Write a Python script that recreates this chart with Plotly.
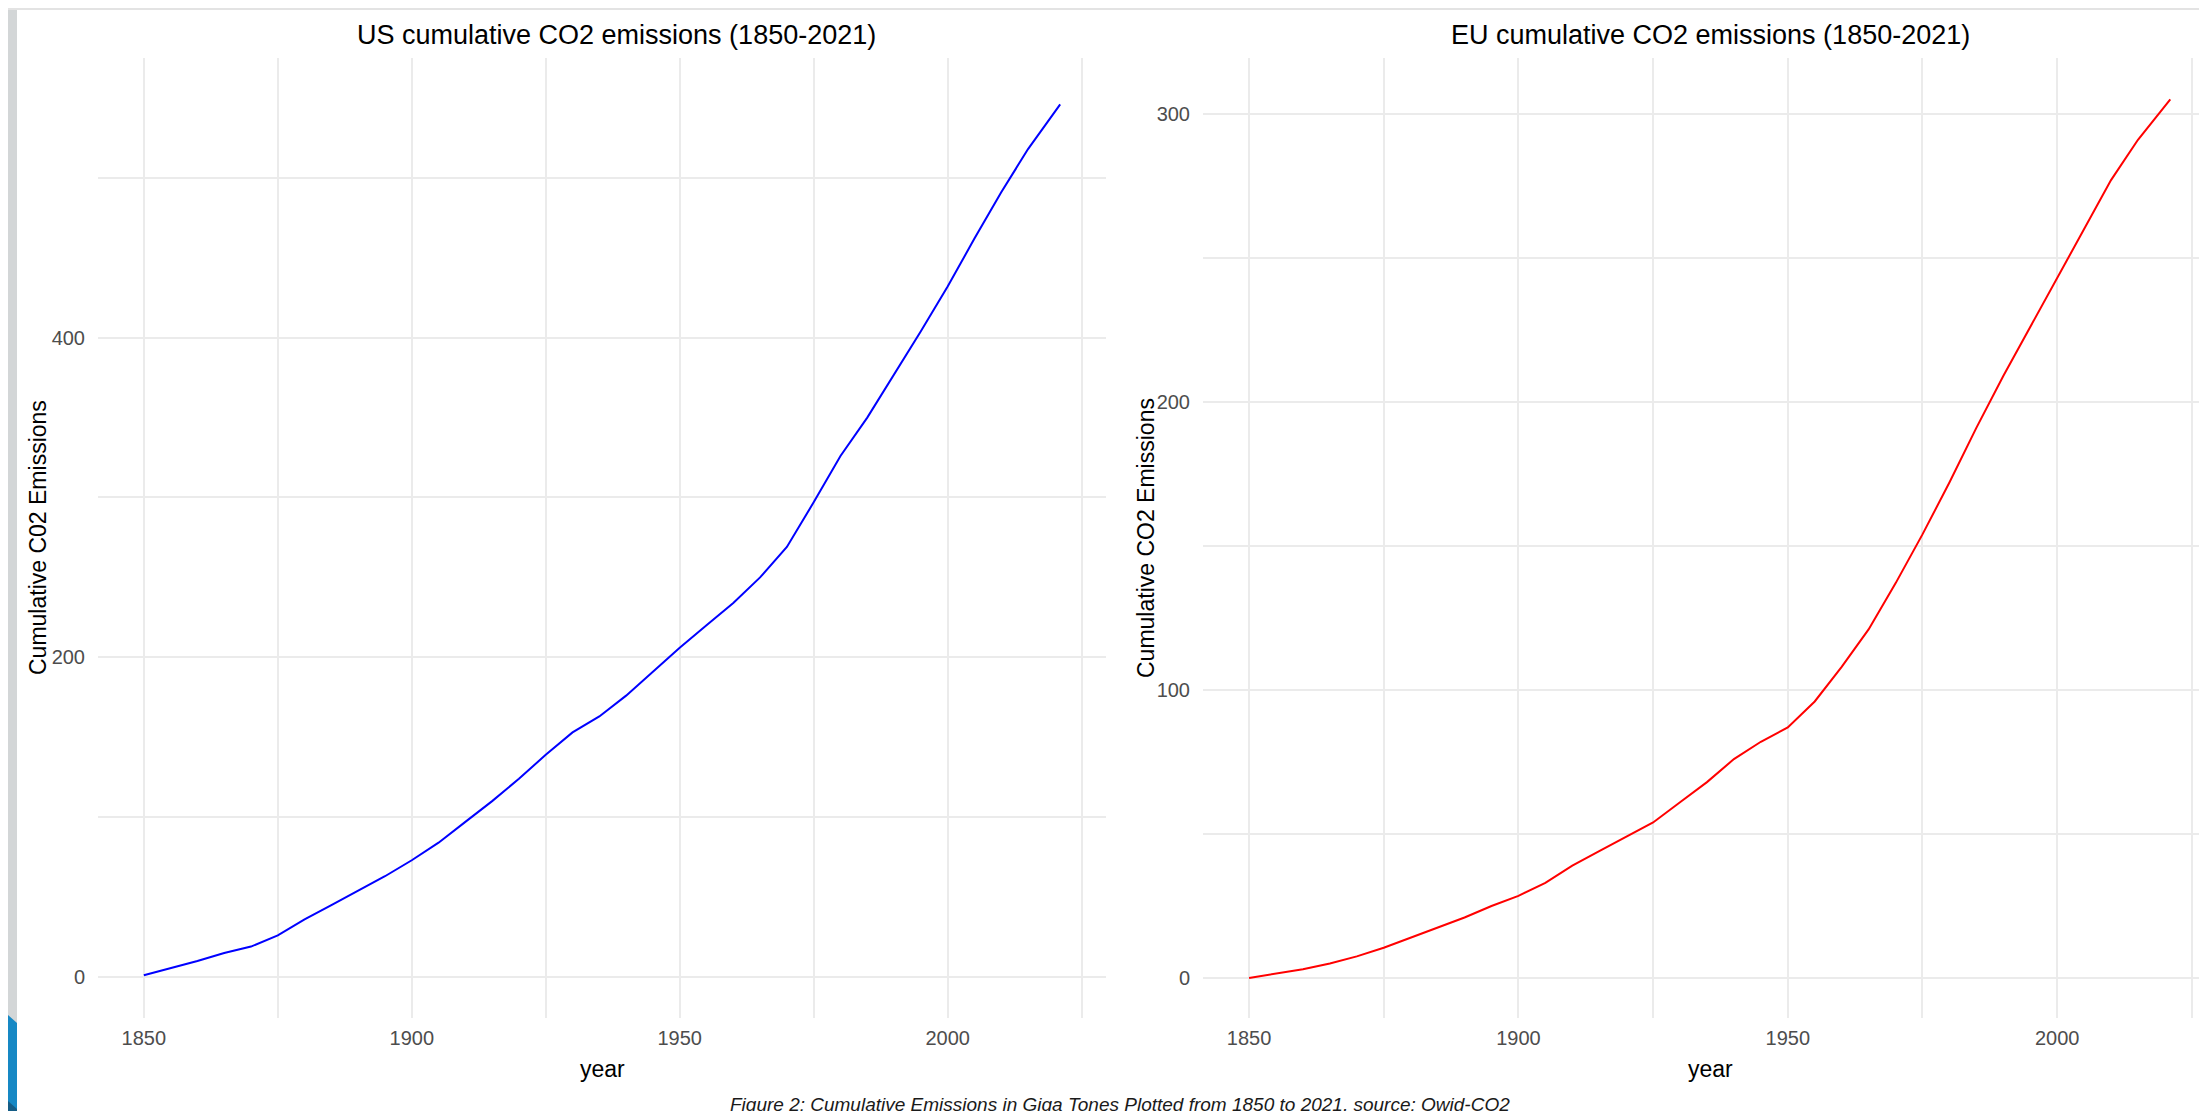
import plotly.graph_objects as go

# ---- data ----
years = [1850, 1855, 1860, 1865, 1870, 1875, 1880, 1885, 1890, 1895, 1900, 1905,
         1910, 1915, 1920, 1925, 1930, 1935, 1940, 1945, 1950, 1955, 1960, 1965,
         1970, 1975, 1980, 1985, 1990, 1995, 2000, 2005, 2010, 2015, 2021]
us_cum = [1, 5.5, 10, 15, 19, 26, 36, 45, 54, 63, 73, 84, 97, 110, 124, 139, 153,
          163, 176, 191, 206, 220, 234, 250, 269, 297, 326, 350, 377, 404, 432,
          462, 491, 518, 546]
eu_cum = [0, 1.5, 3, 5, 7.5, 10.5, 14, 17.5, 21, 25, 28.5, 33, 39, 44, 49, 54, 61,
          68, 76, 82, 87, 96, 108, 121, 137, 154, 172, 191, 209, 226, 243, 260,
          277, 291, 305]

x_ticks = [1850, 1900, 1950, 2000]
us_ticks = [0, 200, 400]
eu_ticks = [0, 100, 200, 300]

titles = ["US cumulative CO2 emissions (1850-2021)", "EU cumulative CO2 emissions (1850-2021)"]
y_titles = ["Cumulative C02 Emissions", "Cumulative CO2 Emissions"]
x_title = "year"
caption = "Figure 2: Cumulative Emissions in Giga Tones Plotted from 1850 to 2021, source: Owid-CO2"

W, H = 2207, 1111
FONT = "Liberation Sans, Arial, sans-serif"

def px(x):
    return x / W

def py(y):
    return 1 - y / H

left_dom = [px(90), px(1098)]
right_dom = [px(1195), 1.0]
y_dom = [py(1010), py(50)]

fig = go.Figure()
fig.add_trace(go.Scatter(x=years, y=us_cum, mode="lines", line=dict(color="#0000ff", width=2),
                         xaxis="x", yaxis="y", showlegend=False))
fig.add_trace(go.Scatter(x=years, y=eu_cum, mode="lines", line=dict(color="#ff0000", width=2),
                         xaxis="x2", yaxis="y2", showlegend=False))

grid = "#ebebeb"
axis_common = dict(showline=False, zeroline=False, ticks="", showgrid=True,
                   gridcolor=grid, gridwidth=2,
                   tickfont=dict(family=FONT, size=20, color="#4d4d4d"))
minor_common = dict(showgrid=True, gridcolor=grid, gridwidth=1.5, ticks="")

fig.update_layout(
    width=W, height=H,
    margin=dict(l=0, r=0, t=0, b=0),
    paper_bgcolor="white", plot_bgcolor="white",
    xaxis=dict(domain=left_dom, range=[1841.45, 2029.55], tickvals=x_ticks,
               minor=dict(tickvals=[1875, 1925, 1975, 2025], **minor_common),
               anchor="y", ticklabelstandoff=6, **axis_common),
    yaxis=dict(domain=y_dom, range=[-25.7, 575], tickvals=us_ticks,
               minor=dict(tickvals=[100, 300, 500], **minor_common),
               anchor="x", ticklabelstandoff=12, **axis_common),
    xaxis2=dict(domain=right_dom, range=[1841.45, 2029.3], tickvals=x_ticks,
                minor=dict(tickvals=[1875, 1925, 1975, 2025], **minor_common),
                anchor="y2", ticklabelstandoff=6, **axis_common),
    yaxis2=dict(domain=y_dom, range=[-13.9, 319.4], tickvals=eu_ticks,
                minor=dict(tickvals=[50, 150, 250], **minor_common),
                anchor="x2", ticklabelstandoff=12, **axis_common),
)

ann = []
centers = [(left_dom[0] + left_dom[1]) / 2, (right_dom[0] + px(2210)) / 2]
title_shift = [px(14), 0]
for c, s, t in zip(centers, title_shift, titles):
    ann.append(dict(x=c + s, y=py(27), xref="paper", yref="paper", text=t, showarrow=False,
                    xanchor="center", yanchor="middle",
                    font=dict(family=FONT, size=27, color="black")))
    ann.append(dict(x=c, y=py(1061), xref="paper", yref="paper", text=x_title, showarrow=False,
                    xanchor="center", yanchor="middle",
                    font=dict(family=FONT, size=23, color="black")))
for xc, t in zip([px(30), px(1138)], y_titles):
    ann.append(dict(x=xc, y=(y_dom[0] + y_dom[1]) / 2, xref="paper", yref="paper", text=t,
                    showarrow=False, textangle=-90, xanchor="center", yanchor="middle",
                    font=dict(family=FONT, size=23, color="black")))
ann.append(dict(x=px(1112), y=py(1096), xref="paper", yref="paper", text="<i>" + caption + "</i>",
                showarrow=False, xanchor="center", yanchor="middle",
                font=dict(family=FONT, size=19, color="#1a1a1a")))
fig.update_layout(annotations=ann)

# slide background decorations around the picture
shapes = [
    dict(type="rect", xref="paper", yref="paper", x0=0, x1=px(9), y0=0, y1=1,
         fillcolor="#d3d6d7", line=dict(width=0), layer="below"),
    dict(type="rect", xref="paper", yref="paper", x0=0, x1=1, y0=py(2), y1=1,
         fillcolor="#e3e3e3", line=dict(width=0), layer="below"),
    dict(type="path", xref="paper", yref="paper",
         path=f"M 0 {py(1007)} L {px(9)} {py(1015)} L {px(9)} 0 L 0 0 Z",
         fillcolor="#1688c4", line=dict(width=0), layer="below"),
    dict(type="path", xref="paper", yref="paper",
         path=f"M 0 {py(1093)} L {px(9)} {py(1101)} L {px(9)} 0 L 0 0 Z",
         fillcolor="#155d86", line=dict(width=0), layer="below"),
]
fig.update_layout(shapes=shapes)

fig.write_html("out.html")
